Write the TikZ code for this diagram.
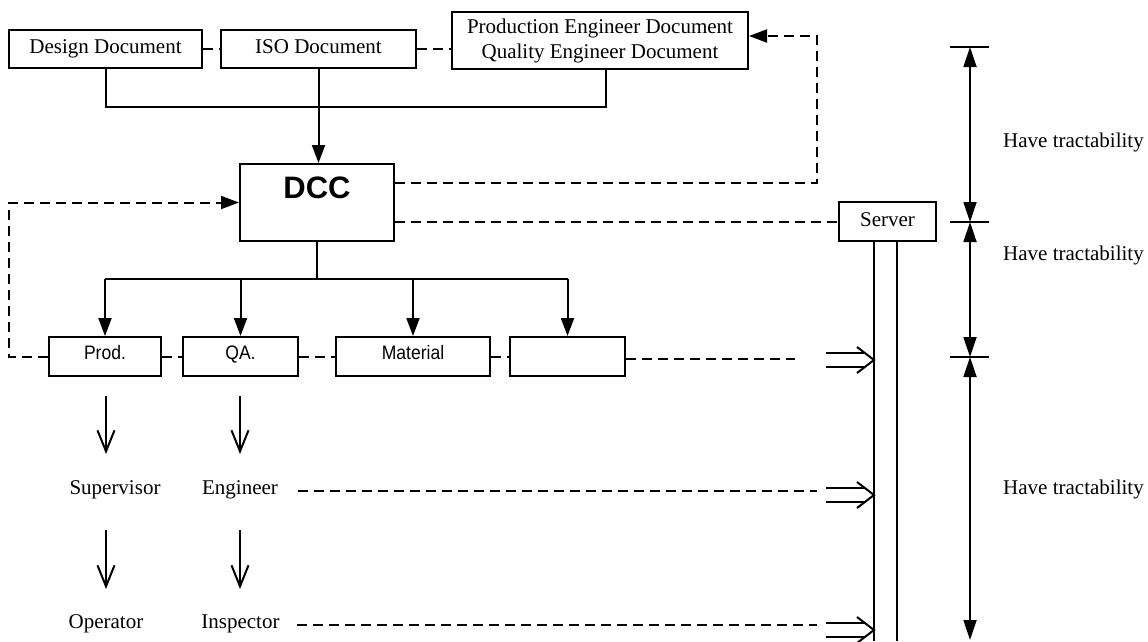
\documentclass[tikz,border=0pt]{standalone}
\usepackage{fontspec}
\setmainfont{Liberation Serif}
\newfontfamily\labelsans[FakeStretch=0.9]{Liberation Sans}
\newfontfamily\headsans{Liberation Sans}
\usetikzlibrary{arrows.meta,calc}

\tikzset{
  feedin/.pic={
    \draw[line width=2pt] (-48,-7) -- (-9,-7) (-48,7) -- (-9,7);
    \draw[line width=2pt, line join=miter] (-17,-13) -- (0,0) -- (-17,13);
  }
}

\begin{document}
\begin{tikzpicture}[x=1pt, y=-1pt,
  box/.style={draw, line width=2pt, inner sep=0pt,
    font=\fontsize{21}{25}\selectfont, text height=14pt, text depth=5pt},
  unit/.style={draw, line width=2pt, inner sep=0pt, minimum height=39pt,
    text height=10pt, text depth=4pt, font=\labelsans\fontsize{19.5}{21}\selectfont},
  word/.style={inner sep=0pt, anchor=base, font=\fontsize{21}{25}\selectfont},
  wire/.style={line width=2pt},
  link/.style={line width=2pt, dash pattern=on 10pt off 6pt},
  fill tip/.style={-{Triangle[length=18pt,width=13pt]}},
  open tip/.style={line width=2pt, -{Straight Barb[length=21pt,width=17pt]}},
  pipe/.style={line width=1.7pt},
  dimline/.style={line width=1.8pt},
  dim tips/.style={{Triangle[length=20pt,width=13pt]}-{Triangle[length=20pt,width=13pt]}}
]
\useasboundingbox (0,0) rectangle (1148,641);

% document sources
\node[box, minimum width=193pt, minimum height=38pt] (design) at (105.5,49) {Design Document};
\node[box, minimum width=195pt, minimum height=38pt] (iso) at (318.5,49) {ISO Document};
\node[draw, line width=2pt, inner sep=0pt, minimum width=296pt, minimum height=57pt,
  align=center, font=\fontsize{21}{25}\selectfont] (ped) at (600,40.5)
  {Production Engineer Document\\Quality Engineer Document};

% document control centre
\node[draw, line width=2pt, minimum width=154pt, minimum height=77pt] (dcc) at (317,202.5) {};
\node[inner sep=0pt, anchor=base, font=\headsans\bfseries\fontsize{31}{31}\selectfont]
  (dcctext) at (317,198.3) {DCC};

% departments
\node[unit, minimum width=112pt] (prod) at (105,356.5) {Prod.};
\node[unit, minimum width=115pt] (qa) at (240.5,356.5) {QA.};
\node[unit, minimum width=154pt] (material) at (413,356.5) {Material};
\node[unit, minimum width=115pt] (blank) at (567.5,356.5) {};

% people
\node[word] (sup) at (115,494.3) {Supervisor};
\node[word] (eng) at (240,494.3) {Engineer};
\node[word] (op) at (106,628.3) {Operator};
\node[word] (insp) at (240.5,628.3) {Inspector};

% server
\node[box, minimum width=97pt, minimum height=39pt] (server) at (887.5,221.5) {Server};

% helper points
\coordinate (bus) at (0,107);
\coordinate (split) at (317,279);
\coordinate (up183) at (817,183);
\coordinate (up36) at (817,36);
\coordinate (bottom) at (0,641);
\coordinate (pl) at (874,241);
\coordinate (pr) at (897,241);
\coordinate (in1) at (874,360);
\coordinate (in2) at (874,495);
\coordinate (in3) at (874,630);
\coordinate (end1) at (795,358.5);
\coordinate (end2) at (817,491);
\coordinate (end3) at (817,625);

% sources feed the DCC
\draw[wire] (design.south) -- (design.south |- bus) -| ([xshift=6pt]ped.south);
\draw[wire, fill tip] (iso.south) -- (iso.south |- dcc.north);
\draw[link] (design.east) -- (iso.west);
\draw[link] (iso.east) -- (iso.east -| ped.west);

% DCC distributes to the departments
\draw[wire] (dcc.south) -- (split);
\draw[wire] (prod.north |- split) -- (blank.north |- split);
\foreach \d in {prod,qa,material,blank}
  \draw[wire, fill tip] (\d.north |- split) -- (\d.north);

% dashed links between departments and feedback
\draw[link] (prod.east) -- (qa.west);
\draw[link] (qa.east) -- (material.west);
\draw[link] (material.east) -- (blank.west);
\draw[link, fill tip] (prod.west) -- ++(-39,0) |- (dcc.west);
\draw[link, fill tip] (dcc.east |- up183) -- (up183) -- (up36) -- (up36 -| ped.east);
\draw[link] (dcc.east |- server.west) -- (server.west);

% chains of people
\draw[open tip] ($(prod.south)+(1,19)$) -- ++(0,58);
\draw[open tip] ($(prod.south)+(1,153)$) -- ++(0,59);
\draw[open tip] ($(qa.south)+(-0.5,19)$) -- ++(0,58);
\draw[open tip] ($(qa.south)+(-0.5,153)$) -- ++(0,59);

% records sent to the server
\draw[link] (blank.east |- end1) -- (end1);
\draw[link] ($(eng.base east)+(20,-3.3)$) -- (end2);
\draw[link] ($(insp.base east)+(17,-3.3)$) -- (end3);
\pic at (in1) {feedin};
\pic at (in2) {feedin};
\pic at (in3) {feedin};

% server storage column
\draw[pipe] (pl) -- (pl |- bottom);
\draw[pipe] (pr) -- (pr |- bottom);

% traceability spans
\coordinate (d1) at (970,47);
\coordinate (d2) at (970,222);
\coordinate (d3) at (970,357);
\coordinate (d4) at (970,640);
\foreach \p in {d1,d2,d3}
  \draw[dimline] ([xshift=-20pt]\p) -- ([xshift=19pt]\p);
\draw[dimline, dim tips] (d1) -- (d2);
\draw[dimline, dim tips] (d2) -- (d3);
\draw[dimline, dim tips] (d3) -- (d4);
\node[word, anchor=base west] (t1) at (1003,147.7) {Have tractability};
\node[word, anchor=base west] (t2) at (1003,260.5) {Have tractability};
\node[word, anchor=base west] (t3) at (1003,494) {Have tractability};
\end{tikzpicture}
\end{document}
